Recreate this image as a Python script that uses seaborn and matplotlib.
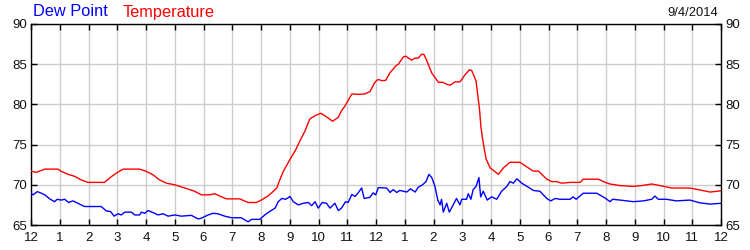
import matplotlib
matplotlib.use("Agg")
import matplotlib.pyplot as plt
import seaborn as sns
import pandas as pd

temp_hours = [0.0, 0.18, 0.48, 0.94, 1.05, 1.29, 1.52, 1.75, 1.98, 2.56, 2.79, 2.97, 3.2, 3.78,
              4.01, 4.24, 4.48, 4.71, 5.0, 5.35, 5.69, 5.93, 6.21, 6.39, 6.56, 6.8, 7.26, 7.55,
              7.84, 8.01, 8.24, 8.37, 8.55, 8.63, 8.78, 9.0, 9.2, 9.38, 9.53, 9.7, 9.88, 10.08,
              10.26, 10.49, 10.69, 10.8, 10.92, 11.16, 11.38, 11.61, 11.79, 11.96, 12.07, 12.21,
              12.34, 12.48, 12.69, 12.78, 12.95, 13.03, 13.24, 13.35, 13.47, 13.59, 13.67, 13.76,
              13.94, 14.17, 14.32, 14.46, 14.58, 14.75, 14.92, 15.1, 15.25, 15.33, 15.48, 15.6,
              15.65, 15.7, 15.75, 15.83, 15.97, 16.26, 16.43, 16.66, 17.01, 17.3, 17.47, 17.65,
              17.94, 18.11, 18.28, 18.46, 18.75, 19.1, 19.21, 19.73, 19.97, 20.14, 20.49, 20.95,
              21.24, 21.59, 21.88, 22.28, 22.92, 23.21, 23.62, 24.0]
temp_vals = [71.7, 71.55, 71.95, 71.95, 71.67, 71.3, 71.05, 70.6, 70.3, 70.3, 71.0, 71.45, 71.95, 71.95,
             71.67, 71.25, 70.6, 70.2, 70.0, 69.6, 69.2, 68.75, 68.75, 68.9, 68.6, 68.25, 68.25, 67.8,
             67.8, 68.1, 68.6, 69.0, 69.6, 70.4, 71.7, 73.1, 74.3, 75.66, 76.7, 78.2, 78.6, 78.9,
             78.5, 77.9, 78.4, 79.2, 79.8, 81.3, 81.25, 81.3, 81.6, 82.75, 83.1, 82.95,
             83.0, 83.9, 84.8, 85.0, 85.9, 86.0, 85.5, 85.75, 85.75, 86.25, 86.2, 85.5,
             83.9, 82.75, 82.75, 82.5, 82.4, 82.8, 82.8, 83.7, 84.3, 84.2, 82.9, 79.4,
             77.2, 75.9, 74.8, 73.2, 72.1, 71.3, 72.1, 72.8, 72.8, 72.1, 71.7, 71.7,
             70.7, 70.4, 70.4, 70.2, 70.3, 70.3, 70.7, 70.7, 70.3, 70.1, 69.9, 69.8,
             69.9, 70.1, 69.9, 69.6, 69.6, 69.4, 69.1, 69.25]

dew_hours = [0.0, 0.07, 0.22, 0.36, 0.48, 0.65, 0.82, 0.91, 1.05, 1.17, 1.31, 1.46, 1.63, 1.86, 2.44,
             2.62, 2.77, 2.89, 3.03, 3.14, 3.26, 3.49, 3.61, 3.78, 3.84, 3.96, 4.07, 4.24, 4.42,
             4.59, 4.77, 5.0, 5.23, 5.58, 5.81, 5.93, 6.16, 6.33, 6.5, 6.74, 6.97, 7.31, 7.55,
             7.67, 7.96, 8.13, 8.31, 8.49, 8.6, 8.72, 8.86, 9.01, 9.12, 9.3, 9.47, 9.65, 9.76,
             9.88, 9.99, 10.13, 10.28, 10.4, 10.57, 10.69, 10.8, 10.94, 11.03, 11.16, 11.27,
             11.38, 11.5, 11.59, 11.79, 11.9, 11.99, 12.08, 12.37, 12.49, 12.6, 12.72, 12.83,
             12.95, 13.07, 13.2, 13.36, 13.47, 13.62, 13.74, 13.84, 13.94, 14.05, 14.15, 14.23,
             14.28, 14.34, 14.46, 14.55, 14.67, 14.8, 14.92, 14.98, 15.15, 15.21, 15.3, 15.38,
             15.48, 15.58, 15.64, 15.73, 15.87, 16.02, 16.2, 16.37, 16.55, 16.66, 16.78, 16.9,
             17.07, 17.3, 17.47, 17.7, 17.94, 18.08, 18.23, 18.4, 18.75, 18.86, 18.96, 19.21,
             19.68, 19.97, 20.14, 20.23, 20.49, 20.95, 21.3, 21.59, 21.7, 21.82, 22.1, 22.45,
             22.92, 23.27, 23.62, 24.0]
dew_vals = [68.95, 68.75, 69.15, 68.95, 68.75, 68.25, 67.9, 68.2, 68.1, 68.2, 67.8, 68.0, 67.7, 67.3, 67.3,
            66.75, 66.67, 66.1, 66.4, 66.25, 66.6, 66.6, 66.25, 66.25, 66.6, 66.45, 66.8, 66.55, 66.25,
            66.4, 66.1, 66.25, 66.1, 66.2, 65.75, 65.85, 66.25, 66.45, 66.4, 66.1, 65.9, 65.9, 65.4,
            65.7, 65.7, 66.25, 66.7, 67.1, 67.9, 68.3, 68.2, 68.55, 67.9, 67.5, 67.7, 67.8, 67.4,
            67.9, 67.1, 67.8, 67.7, 67.1, 67.7, 66.8, 67.1, 67.9, 67.8, 68.8, 68.55,
            69.0, 69.6, 68.3, 68.45, 69.0, 68.75, 69.65, 69.6, 69.05, 69.4, 69.05, 69.3,
            69.2, 69.1, 69.5, 69.1, 69.7, 70.0, 70.4, 71.3, 70.9, 69.8, 68.1, 67.5,
            68.2, 66.6, 67.7, 66.6, 67.4, 68.3, 67.5, 68.2, 68.2, 68.9, 68.2, 69.4,
            69.8, 70.9, 68.5, 69.2, 68.1, 68.5, 68.2, 69.2, 69.8, 70.4, 70.2, 70.75,
            70.2, 69.7, 69.3, 69.2, 68.3, 68.0, 68.3, 68.2, 68.2, 68.5, 68.2, 68.95,
            68.95, 68.35, 67.9, 68.2, 68.1, 67.9, 68.0, 68.2, 68.6, 68.2, 68.2, 68.0,
            68.1, 67.75, 67.6, 67.7]

x_tick_pos = list(range(0, 25))
x_tick_labels = ["12", "1", "2", "3", "4", "5", "6", "7", "8", "9", "10", "11",
                 "12", "1", "2", "3", "4", "5", "6", "7", "8", "9", "10", "11", "12"]
y_ticks = [65, 70, 75, 80, 85, 90]
date_label = "9/4/2014"

sns.set_theme(style="white")
plt.rcParams['font.family'] = ['Liberation Sans', 'DejaVu Sans']

fig = plt.figure(figsize=(7.5, 2.5), dpi=100)
ax = fig.add_axes([31/750, 25/250, 690/750, 201/250])

temp_df = pd.DataFrame({"hour": temp_hours, "value": temp_vals})
dew_df = pd.DataFrame({"hour": dew_hours, "value": dew_vals})

sns.lineplot(data=temp_df, x="hour", y="value", color="#ff0000", linewidth=1.0, ax=ax, zorder=3)
sns.lineplot(data=dew_df, x="hour", y="value", color="#0000ff", linewidth=1.0, ax=ax, zorder=4)

ax.set_xlim(0, 24)
ax.set_ylim(65, 90)
ax.set_xticks(x_tick_pos)
ax.set_xticklabels(x_tick_labels)
ax.set_yticks(y_ticks)
ax.set_xlabel("")
ax.set_ylabel("")
ax.grid(True, color="#cccccc", linewidth=1.0)
ax.set_axisbelow(True)
for s in ax.spines.values():
    s.set_color("black")
    s.set_linewidth(1.0)
    s.set_visible(True)
ax.tick_params(axis="both", direction="in", length=4, width=1, color="black",
               labelsize=9.5, labelcolor="#111111", top=True, right=True,
               labelright=True, labelleft=True, bottom=True, left=True)
ax.tick_params(axis="x", pad=5)
ax.tick_params(axis="y", pad=3)

fig.text(33/750, 1 - 12/250, "Dew Point", color="#0000ff", fontsize=11.8, va="center", ha="left")
fig.text(123/750, 1 - 12/250, "Temperature", color="#ff0000", fontsize=11.8, va="center", ha="left")
fig.text(718/750, 1 - 13/250, date_label, color="#111111", fontsize=9.3, va="center", ha="right")

fig.savefig("out.png", dpi=100)
